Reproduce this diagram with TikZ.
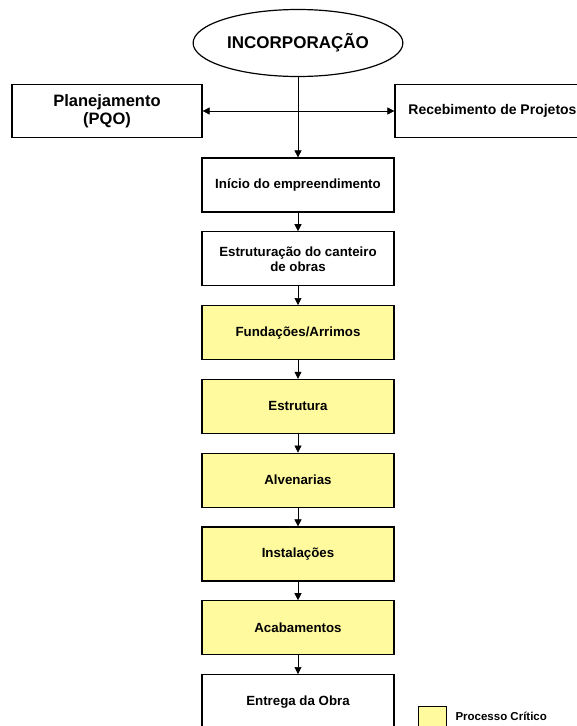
\documentclass[tikz,border=0pt]{standalone}
\usepackage{fontspec}
\setmainfont{Liberation Sans}
\usetikzlibrary{arrows.meta,positioning,shapes.geometric}
\definecolor{critico}{HTML}{FFFA9E}
\tikzset{
  etapa/.style={draw, line width=1.2pt, minimum width=192pt, minimum height=54pt, align=center, inner sep=2pt, font=\bfseries\fontsize{13.3}{15}\selectfont},
  critica/.style={etapa, fill=critico},
  seta/.style={line width=0.6pt, -{Triangle[length=7pt,width=7pt]}}
}
\begin{document}
\begin{tikzpicture}[x=1pt,y=-1pt, node distance=18.6pt]
\useasboundingbox (0,0) rectangle (576,726);
\node[draw, ellipse, line width=1.2pt, minimum width=207pt, minimum height=67pt, font=\bfseries\fontsize{17}{20}\selectfont] (inc) at (298,43) {INCORPORAÇÃO};
\node[etapa, minimum width=190pt, minimum height=53pt, font=\bfseries\fontsize{16.5}{18.5}\selectfont] (plan) at (107,111) {Planejamento\\(PQO)};
\node[etapa, minimum width=195pt, minimum height=53pt, font=\bfseries\fontsize{14}{16}\selectfont] (rec) at (492.5,111) {Recebimento de Projetos};
\node[etapa] (ini) at (298,185) {Início do empreendimento};
\node[etapa, below=of ini] (can) {Estruturação do canteiro\\de obras};
\node[critica, below=of can] (fun) {Fundações/Arrimos};
\node[critica, below=of fun] (est) {Estrutura};
\node[critica, below=of est] (alv) {Alvenarias};
\node[critica, below=of alv] (ins) {Instalações};
\node[critica, below=of ins] (aca) {Acabamentos};
\node[etapa, below=of aca] (ent) {Entrega da Obra};
\node[draw, line width=0.8pt, fill=critico, minimum width=28pt, minimum height=28pt, inner sep=0pt] (leg) at (432,720) {};
\node[anchor=west, font=\bfseries\fontsize{11.5}{13}\selectfont] (legtxt) at (452,716) {Processo Crítico};
\draw[seta] (inc) -- (ini);
\draw[line width=0.6pt, {Triangle[length=7pt,width=7pt]}-{Triangle[length=7pt,width=7pt]}] (plan) -- (rec);
\foreach \a/\b in {ini/can, can/fun, fun/est, est/alv, alv/ins, ins/aca, aca/ent}
  \draw[seta] (\a) -- (\b);
\end{tikzpicture}
\end{document}
